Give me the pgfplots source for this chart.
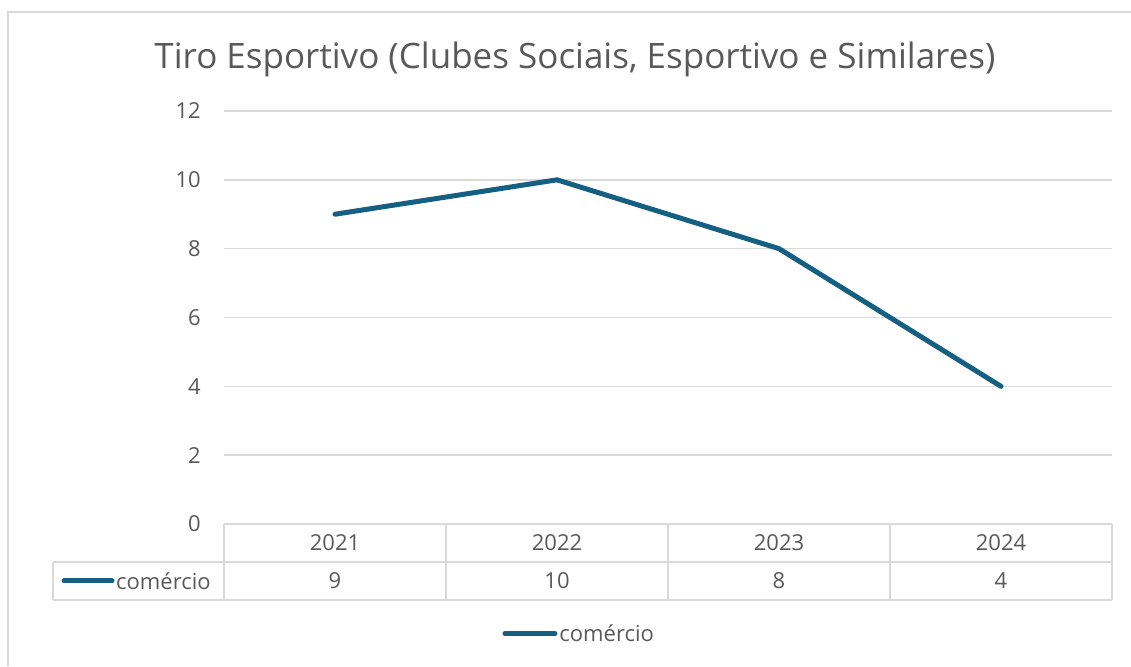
\documentclass[border=0pt]{standalone}
\usepackage{pgfplots}
\pgfplotsset{compat=1.18}
\usepackage{fontspec}
\setmainfont{Open Sans}
\definecolor{accent}{HTML}{156082}
\definecolor{txt}{HTML}{595959}
\definecolor{gridc}{HTML}{D9D9D9}
\newcommand{\lab}{\fontsize{22}{26}\selectfont}
\begin{document}
\begin{tikzpicture}
\path[use as bounding box] (0pt,0pt) rectangle (1131pt,666pt);
\draw[gridc, line width=1.5pt] (8pt,0pt) -- (8pt,654pt) -- (1131pt,654pt);
\node[txt, font=\fontsize{35}{40}\selectfont, anchor=base] at (575pt,597pt) {Tiro Esportivo (Clubes Sociais, Esportivo e Similares)};
\begin{axis}[
  at={(224pt,142pt)}, anchor=south west,
  scale only axis, width=888pt, height=413pt,
  xmin=-0.5, xmax=3.5, ymin=0, ymax=12,
  ytick={0,2,...,12}, xtick=\empty,
  axis line style={draw=none},
  major tick style={draw=none},
  ymajorgrids, grid style={gridc, line width=1.5pt},
  /pgf/number format/assume math mode=true,
  yticklabel style={txt, font=\lab, inner sep=0pt, xshift=-23pt},
  clip=false,
  legend style={at={(0.400,-0.266)}, anchor=center, draw=none, fill=none, font=\lab, text=txt,
    legend cell align=left},
  legend image code/.code={\draw[accent, line width=5pt, line cap=round] (0pt,0pt) -- (50pt,0pt);},
]
\addplot[accent, line width=5pt, line cap=round, line join=round] coordinates {(0,9) (1,10) (2,8) (3,4)};
\addlegendentry{comércio}
\end{axis}
% data table
\draw[gridc, line width=1.5pt] (224pt,142pt) -- (1112pt,142pt);
\draw[gridc, line width=1.5pt] (53pt,104pt) -- (1112pt,104pt);
\draw[gridc, line width=1.5pt] (53pt,66pt) -- (1112pt,66pt);
\draw[gridc, line width=1.5pt] (53pt,104pt) -- (53pt,66pt);
\foreach \x in {224,446,668,890,1112} {\draw[gridc, line width=1.5pt] (\x pt,142pt) -- (\x pt,66pt);}
\foreach \x/\t in {335/2021,557/2022,779/2023,1001/2024} {\node[txt, font=\lab] at (\x pt,123pt) {\t};}
\foreach \x/\t in {335/9,557/10,779/8,1001/4} {\node[txt, font=\lab] at (\x pt,85pt) {\t};}
\draw[accent, line width=5pt, line cap=round] (64pt,85pt) -- (112pt,85pt);
\node[txt, font=\lab, anchor=west, inner sep=0pt] at (116pt,85pt) {comércio};
\end{tikzpicture}
\end{document}
